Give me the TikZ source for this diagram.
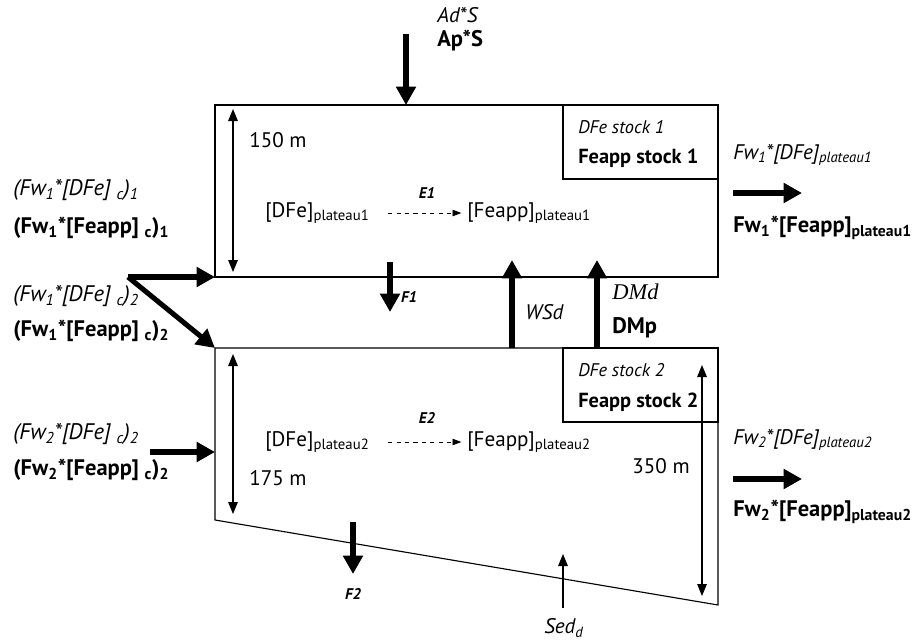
\documentclass[tikz,border=0pt]{standalone}
\usepackage{fontspec}
\setmainfont{PT Sans}
\newfontfamily\dmfont{Liberation Serif}
\usetikzlibrary{arrows.meta}

\begin{document}
\begin{tikzpicture}[x=0.025cm,y=-0.025cm,line cap=butt,
  font=\fontsize{15}{18}\selectfont,
  flux/.style={line width=3.6pt,-{Triangle[length=4.6mm,width=4.8mm]}},
  thin/.style={line width=0.8pt,-{Triangle[length=3mm,width=2.4mm]}},
  span/.style={line width=0.8pt,{Triangle[length=3mm,width=2.4mm]}-{Triangle[length=3mm,width=2.4mm]}},
  lbl/.style={anchor=west,inner sep=0pt},
  it/.style={lbl,font=\fontsize{15}{18}\selectfont\itshape},
  bf/.style={lbl,font=\fontsize{16}{18}\selectfont\bfseries},
  side/.style={font=\fontsize{16}{19}\selectfont\itshape},
  sidebf/.style={font=\fontsize{16}{19}\selectfont\bfseries},
  tag/.style={inner sep=0pt,font=\fontsize{11}{13}\selectfont\bfseries\itshape},
  exch/.style={dashed,line width=0.6pt,-{Triangle[length=2.2mm,width=1.6mm]}}]
\useasboundingbox (0,0) rectangle (922,640);

% boxes
\draw[line width=0.8pt] (215,105) rectangle (718,277);
\draw[line width=0.8pt] (563,105) rectangle (718,179);
\draw[line width=0.8pt] (215,348) -- (718,348) -- (718,605) -- (215,520) -- cycle;
\draw[line width=0.8pt] (563,348) rectangle (718,422);

% stocks
\node[it,font=\fontsize{13}{15}\selectfont\itshape] (dfeA) at (578,127) {DFe stock 1};
\node[bf,font=\fontsize{14.5}{17}\selectfont\bfseries] (feA) at (578,158) {Feapp stock 1};
\node[it,font=\fontsize{13}{15}\selectfont\itshape] (dfeB) at (578,370) {DFe stock 2};
\node[bf,font=\fontsize{14.5}{17}\selectfont\bfseries] (feB) at (578,402) {Feapp stock 2};

% depths
\coordinate (upT) at (233,109);
\coordinate (upB) at (233,272);
\draw[span] (upT) -- (upB);
\node[lbl] (depA) at (249,140) {150 m};
\coordinate (loT) at (233,354);
\coordinate (loB) at (233,514);
\draw[span] (loT) -- (loB);
\node[lbl] (depB) at (249,478) {175 m};
\coordinate (deT) at (702,365);
\coordinate (deB) at (702,596);
\draw[span] (deT) -- (deB);
\node[anchor=east,inner sep=0pt] (depC) at (690,466) {350 m};

% exchange
\node[lbl] (plA) at (265,213) {[DFe]\textsubscript{plateau1}};
\node[lbl] (apA) at (467,213) {[Feapp]\textsubscript{plateau1}};
\draw[exch] ([xshift=13]plA.east) -- ([xshift=-4]apA.west);
\node[tag] (eA) at (427,193) {E1};
\node[lbl] (plB) at (265,442) {[DFe]\textsubscript{plateau2}};
\node[lbl] (apB) at (467,442) {[Feapp]\textsubscript{plateau2}};
\draw[exch] ([xshift=13]plB.east) -- ([xshift=-4]apB.west);
\node[tag] (eB) at (427,418) {E2};

% atmosphere
\coordinate (atm) at (406,34);
\coordinate (top) at (406,105);
\draw[flux] (atm) -- (top);
\node[it] (ad) at (437,15) {Ad*S};
\node[bf] (ap) at (437,41) {Ap*S};

% between layers
\draw[flux] (390,262) -- (390,312);
\node[tag] (fA) at (409,297) {F1};
\draw[flux] (512,348) -- (512,260);
\node[it] (ws) at (525,312) {WSd};
\draw[flux] (597,348) -- (597,260);
\node[lbl,font=\fontsize{16}{18}\selectfont\dmfont\itshape] (dmd) at (612,292) {DMd};
\node[bf] (dmp) at (612,328) {DMp};

% bottom
\draw[flux] (353,522) -- (353,574);
\node[tag] (fB) at (353,594) {F2};
\coordinate (sedS) at (563,608);
\coordinate (sedE) at (563,554);
\draw[thin] (sedS) -- (sedE);
\node[inner sep=0pt,font=\fontsize{15}{18}\selectfont\itshape] (sed) at (564,628) {Sed\textsubscript{d}};

% lateral inputs
\node[lbl,side] (inA) at (13,190) {(Fw\textsubscript{1}*[DFe] \textsubscript{c})\textsubscript{1}};
\node[lbl,sidebf] (inAp) at (13,228) {(Fw\textsubscript{1}*[Feapp] \textsubscript{c})\textsubscript{1}};
\node[lbl,side] (inB) at (13,296) {(Fw\textsubscript{1}*[DFe] \textsubscript{c})\textsubscript{2}};
\node[lbl,sidebf] (inBp) at (13,331) {(Fw\textsubscript{1}*[Feapp] \textsubscript{c})\textsubscript{2}};
\node[lbl,side] (inC) at (13,434) {(Fw\textsubscript{2}*[DFe] \textsubscript{c})\textsubscript{2}};
\node[lbl,sidebf] (inCp) at (13,470) {(Fw\textsubscript{2}*[Feapp] \textsubscript{c})\textsubscript{2}};
\coordinate (split) at (128,277);
\draw[flux] (split) -- (215,277);
\draw[flux] (split) -- (215,348);
\draw[flux] (150,452) -- (215,452);

% lateral outputs
\node[it] (outA) at (733,155) {Fw\textsubscript{1}*[DFe]\textsubscript{plateau1}};
\draw[flux] (733,193) -- (802,193);
\node[bf] (outAp) at (733,228) {Fw\textsubscript{1}*[Feapp]\textsubscript{plateau1}};
\node[it] (outB) at (733,440) {Fw\textsubscript{2}*[DFe]\textsubscript{plateau2}};
\draw[flux] (733,479) -- (802,479);
\node[bf] (outBp) at (733,512) {Fw\textsubscript{2}*[Feapp]\textsubscript{plateau2}};
\end{tikzpicture}
\end{document}
